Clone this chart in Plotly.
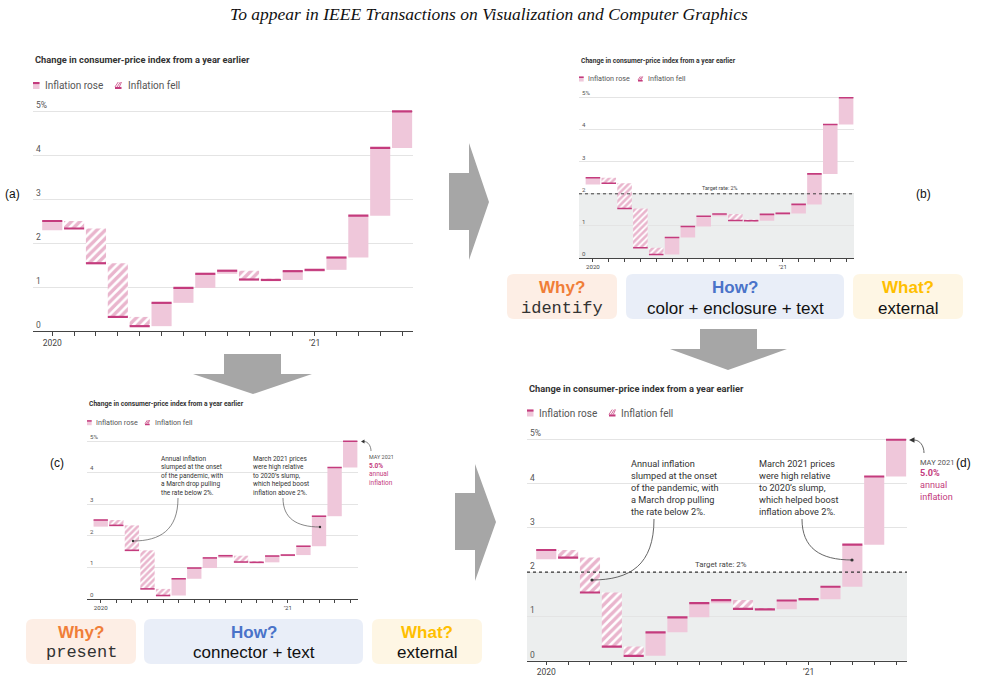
import plotly.graph_objects as go

W, H = 981, 677

# ---------------- data ----------------
months = ["Jan 2020", "Feb 2020", "Mar 2020", "Apr 2020", "May 2020", "Jun 2020",
          "Jul 2020", "Aug 2020", "Sep 2020", "Oct 2020", "Nov 2020", "Dec 2020",
          "Jan 2021", "Feb 2021", "Mar 2021", "Apr 2021", "May 2021"]
dec_2019_value = 2.29
cpi_values = [2.50, 2.33, 1.54, 0.32, 0.11, 0.64, 0.98, 1.30, 1.37, 1.17, 1.16,
              1.36, 1.39, 1.67, 2.62, 4.16, 4.99]
x_tick_labels = ["2020", "", "", "", "", "", "", "", "", "", "", "", "\u201921", "", "", "", ""]
y_tick_values = [0, 1, 2, 3, 4, 5]
y_tick_labels = ["0", "1", "2", "3", "4", "5%"]
target_rate = 2.0
target_label = "Target rate: 2%"
legend_labels = ["Inflation rose", "Inflation fell"]
chart_title = "Change in consumer-price index from a year earlier"
note_pandemic = ("Annual inflation<br>slumped at the onset<br>of the pandemic, with"
                 "<br>a March drop pulling<br>the rate below 2%.")
note_march = ("March 2021 prices<br>were high relative<br>to 2020\u2019s slump,"
              "<br>which helped boost<br>inflation above 2%.")
note_may_label = "MAY 2021"
note_may_value = "<b>5.0%</b><br>annual<br>inflation"
page_header = "To appear in IEEE Transactions on Visualization and Computer Graphics"
panel_letters = ["(a)", "(b)", "(c)", "(d)"]
why_words = ["identify", "present"]
how_words = ["color + enclosure + text", "connector + text"]
what_words = ["external", "external"]

# ---------------- style ----------------
SANS = "Roboto"
PINK = "#efc7da"
HATCH = "#d46b9b"
DARK = "#c43b7d"
GRID = "#e4e4e4"
AXIS = "#444444"
SHADE = "#eceeee"
ARROW_GREY = "#a6a6a6"

def X(px):
    return px / W

def Y(py):
    return 1 - py / H

prev = [dec_2019_value] + cpi_values[:-1]
delta = [c - p for c, p in zip(cpi_values, prev)]
idx = list(range(len(cpi_values)))
rose_i = [i for i in idx if delta[i] >= 0]
fell_i = [i for i in idx if delta[i] < 0]

# panel geometry (pixels): left, right, y of 0, y of 5, scale
geo = {
    1: dict(xl=33, xr=413, y0=331, y5=111, s=1.0, shade=False),
    2: dict(xl=579, xr=854, y0=258, y5=97.5, s=0.72, shade=True),
    3: dict(xl=87, xr=358, y0=599, y5=441, s=0.72, shade=False),
    4: dict(xl=527, xr=907, y0=660.7, y5=439.3, s=1.0, shade=True),
}
YMAX = 5.28
XR = [-0.88, 16.5]

fig = go.Figure()
shapes = []
annotations = []
layout_axes = {}

for n, g in geo.items():
    xa = "x" if n == 1 else f"x{n}"
    ya = "y" if n == 1 else f"y{n}"
    s = g["s"]
    fig.add_trace(go.Bar(
        x=rose_i, y=[delta[i] for i in rose_i], base=[prev[i] for i in rose_i],
        width=0.92, marker=dict(color=PINK, line=dict(width=0)),
        xaxis=xa, yaxis=ya, showlegend=False, name=legend_labels[0]))
    fig.add_trace(go.Bar(
        x=fell_i, y=[delta[i] for i in fell_i], base=[prev[i] for i in fell_i],
        width=0.92,
        marker=dict(color=HATCH, line=dict(width=0),
                    pattern=dict(shape="/", fgcolor=HATCH, bgcolor="white",
                                 size=5.5 * s + 0.5, solidity=0.58)),
        xaxis=xa, yaxis=ya, showlegend=False, name=legend_labels[1]))
    lx, ly = [], []
    for i in idx:
        lx += [i - 0.46, i + 0.46, None]
        ly += [cpi_values[i], cpi_values[i], None]
    fig.add_trace(go.Scatter(x=lx, y=ly, mode="lines",
                             line=dict(color=DARK, width=2.2 * s),
                             xaxis=xa, yaxis=ya, showlegend=False, hoverinfo="skip"))

    top = g["y0"] - YMAX * (g["y0"] - g["y5"]) / 5
    key = "" if n == 1 else str(n)
    layout_axes["xaxis" + key] = dict(
        domain=[X(g["xl"]), X(g["xr"])], range=XR, anchor=ya,
        showgrid=False, zeroline=False, showline=True, linecolor=AXIS, linewidth=1,
        ticks="outside", ticklen=3 * s + 0.5, tickwidth=1, tickcolor=AXIS,
        tickvals=idx, ticktext=x_tick_labels,
        tickfont=dict(family=SANS, size=8.5 * s, color="#444"))
    layout_axes["yaxis" + key] = dict(
        domain=[Y(g["y0"]), Y(top)], range=[0, YMAX], anchor=xa,
        showgrid=True, gridcolor=GRID, gridwidth=1, zeroline=False, showline=False,
        ticks="", tickvals=y_tick_values, ticktext=y_tick_labels,
        ticklabelposition="inside top",
        tickfont=dict(family=SANS, size=8.5 * s, color="#555"))

    if g["shade"]:
        shapes.append(dict(type="rect", xref=f"{xa} domain", yref=ya, x0=0, x1=1,
                           y0=0, y1=target_rate, fillcolor=SHADE, line=dict(width=0),
                           layer="below"))
        shapes.append(dict(type="line", xref=f"{xa} domain", yref=ya, x0=0, x1=1,
                           y0=target_rate, y1=target_rate,
                           line=dict(color="#333", width=1.3 * s, dash="dot")))

# ---------------- helpers ----------------
def txt(x, y, text, size, color="#333", xanchor="left", yanchor="middle",
        family=SANS, align="left"):
    return dict(x=X(x), y=Y(y), xref="paper", yref="paper", text=text,
                showarrow=False, xanchor=xanchor, yanchor=yanchor, align=align,
                font=dict(size=size, color=color, family=family))

def poly(points, color):
    p = "M " + " L ".join(f"{X(a):.5f},{Y(b):.5f}" for a, b in points) + " Z"
    return dict(type="path", xref="paper", yref="paper", path=p,
                fillcolor=color, line=dict(width=0))

def rrect(x0, y0, x1, y1, r, color):
    def P(a, b):
        return f"{X(a):.5f},{Y(b):.5f}"
    p = (f"M {P(x0 + r, y0)} L {P(x1 - r, y0)} Q {P(x1, y0)} {P(x1, y0 + r)} "
         f"L {P(x1, y1 - r)} Q {P(x1, y1)} {P(x1 - r, y1)} L {P(x0 + r, y1)} "
         f"Q {P(x0, y1)} {P(x0, y1 - r)} L {P(x0, y0 + r)} Q {P(x0, y0)} {P(x0 + r, y0)} Z")
    return dict(type="path", xref="paper", yref="paper", path=p,
                fillcolor=color, line=dict(width=0), layer="below")

def curve(p0, c1, c2, p1, width=0.9):
    def P(a, b):
        return f"{X(a):.5f},{Y(b):.5f}"
    p = f"M {P(*p0)} C {P(*c1)} {P(*c2)} {P(*p1)}"
    return dict(type="path", xref="paper", yref="paper", path=p,
                line=dict(color="#555", width=width))

def dot(cx, cy, r):
    return dict(type="circle", xref="paper", yref="paper",
                x0=X(cx - r), x1=X(cx + r), y0=Y(cy + r), y1=Y(cy - r),
                fillcolor="#333", line=dict(width=0))

def legend_icons(x_rose, x_fell, yc, w, h):
    out = []
    out.append(dict(type="rect", xref="paper", yref="paper", x0=X(x_rose), x1=X(x_rose + w),
                    y0=Y(yc + h / 2), y1=Y(yc - h / 2), fillcolor=PINK, line=dict(width=0)))
    out.append(dict(type="rect", xref="paper", yref="paper", x0=X(x_rose), x1=X(x_rose + w),
                    y0=Y(yc - h / 2 + h * 0.3), y1=Y(yc - h / 2), fillcolor=DARK,
                    line=dict(width=0)))
    for k in range(3):
        a = x_fell + k * w / 3
        out.append(dict(type="line", xref="paper", yref="paper",
                        x0=X(a), y0=Y(yc + h / 2 - h * 0.3), x1=X(min(a + w / 2, x_fell + w)),
                        y1=Y(yc - h / 2), line=dict(color=HATCH, width=1)))
    out.append(dict(type="rect", xref="paper", yref="paper", x0=X(x_fell), x1=X(x_fell + w),
                    y0=Y(yc + h / 2), y1=Y(yc + h / 2 - h * 0.3), fillcolor=DARK,
                    line=dict(width=0)))
    return out

# ---------------- header ----------------
annotations.append(txt(489, 14, f"<i>{page_header}</i>", 17.5, "#111", xanchor="center",
                       family="Liberation Serif"))

# ---------------- titles and legends ----------------
title_pos = {1: (33, 60), 2: (579, 61), 3: (87, 404), 4: (527, 388)}
leg_pos = {1: (33, 43, 115, 126, 85.5), 2: (579, 586, 638, 646, 79),
           3: (87, 94, 145, 153, 422.7), 4: (527, 537, 609, 619, 413)}
for n, g in geo.items():
    s = g["s"]
    tx, ty = title_pos[n]
    annotations.append(txt(tx, ty, f"<b>{chart_title}</b>", 9.3 * s, "#333"))
    xr, xt, xf, xft, yl = leg_pos[n]
    shapes.extend(legend_icons(xr, xf, yl, 6.5 * s, 7 * s))
    annotations.append(txt(xt, yl, legend_labels[0], 10 * s, "#555"))
    annotations.append(txt(xft, yl, legend_labels[1], 10 * s, "#555"))

# panel letters
for (lx_, ly_), t in zip([(12, 194), (923, 194), (57, 463), (963, 463)], panel_letters):
    annotations.append(txt(lx_, ly_, t, 12, "#111", xanchor="center", family="Liberation Sans"))

# target labels
annotations.append(txt(720, 188, target_label, 7.5 * 0.72, "#444", xanchor="center"))
annotations.append(txt(721, 564, target_label, 7.8, "#444", xanchor="center"))

# ---------------- notes (c) and (d) ----------------
# (c)
annotations.append(txt(159, 453.2, note_pandemic, 6.5, "#333", yanchor="top"))
annotations.append(txt(251, 453.2, note_march, 6.5, "#333", yanchor="top"))
annotations.append(txt(366.5, 457.3, note_may_label, 5.4, "#555"))
annotations.append(txt(366.5, 460.2, note_may_value, 6.5, DARK, yanchor="top"))
shapes.append(curve((178, 498), (178, 530), (160, 541), (133, 541), 0.7))
shapes.append(dot(133, 541, 1.2))
shapes.append(curve((283, 498), (283, 518), (296, 527), (320, 527), 0.7))
shapes.append(dot(320, 527, 1.2))
shapes.append(curve((371, 451), (371, 446), (368, 441.5), (364, 441.5), 0.7))
shapes.append(poly([(361, 441.5), (364.5, 439.5), (364.5, 443.5)], "#333"))
# (d)
annotations.append(txt(629, 456.2, note_pandemic, 9.2, "#333", yanchor="top"))
annotations.append(txt(757, 456.2, note_march, 9.2, "#333", yanchor="top"))
annotations.append(txt(917.5, 462, note_may_label, 7.5, "#555"))
annotations.append(txt(917.5, 466.4, note_may_value, 9.1, DARK, yanchor="top"))
shapes.append(curve((654, 519), (654, 565), (630, 580), (592, 580), 0.9))
shapes.append(dot(592, 580, 1.6))
shapes.append(curve((802, 519), (802, 548), (820, 560), (852, 560), 0.9))
shapes.append(dot(852, 560, 1.6))
shapes.append(curve((924, 453), (924, 446), (920, 440), (914, 440), 0.9))
shapes.append(poly([(909, 440), (914.5, 437.3), (914.5, 442.7)], "#333"))

# ---------------- big grey arrows ----------------
shapes.append(poly([(449, 173), (469, 173), (469, 143), (489, 202), (469, 260),
                    (469, 230), (449, 230)], ARROW_GREY))
shapes.append(poly([(455, 493), (475, 493), (475, 464), (496, 522), (475, 581),
                    (475, 550), (455, 550)], ARROW_GREY))
shapes.append(poly([(224, 354), (281, 354), (281, 374), (312, 374), (253, 394),
                    (193, 374), (224, 374)], ARROW_GREY))
shapes.append(poly([(700, 329), (757, 329), (757, 349), (787, 349), (728, 370),
                    (670, 349), (700, 349)], ARROW_GREY))

# ---------------- why / how / what boxes ----------------
box_rows = [
    dict(y0=274, y1=319, yq=287, ya=308,
         why=(507, 617), how=(626, 844), what=(853, 963), k=0),
    dict(y0=619, y1=664, yq=632, ya=652,
         why=(26, 136), how=(144, 363), what=(372, 482), k=1),
]
for row in box_rows:
    k = row["k"]
    for (bx0, bx1), fill, q, qcol, word, fam in [
        (row["why"], "#fdeee5", "Why?", "#f07e38", why_words[k], "Liberation Mono"),
        (row["how"], "#e9eef8", "How?", "#4a73c9", how_words[k], "Liberation Sans"),
        (row["what"], "#fef6e4", "What?", "#ffbf00", what_words[k], "Liberation Sans"),
    ]:
        shapes.append(rrect(bx0, row["y0"], bx1, row["y1"], 7, fill))
        cx = (bx0 + bx1) / 2
        annotations.append(txt(cx, row["yq"], f"<b>{q}</b>", 17, qcol, xanchor="center",
                               family="Liberation Sans"))
        annotations.append(txt(cx, row["ya"], word, 17,
                               "#333" if fam == "Liberation Mono" else "#111",
                               xanchor="center", family=fam))

fig.update_layout(
    width=W, height=H, margin=dict(l=0, r=0, t=0, b=0),
    paper_bgcolor="white", plot_bgcolor="rgba(0,0,0,0)",
    barmode="overlay", showlegend=False,
    shapes=shapes, annotations=annotations,
    **layout_axes,
)

fig.write_html("out.html")
